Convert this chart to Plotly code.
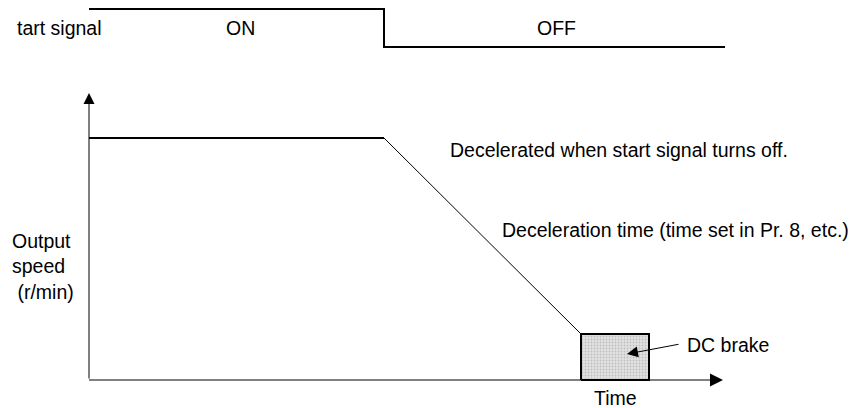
import plotly.graph_objects as go

# start signal timing (time units, level)
signal_t = [0, 295, 295, 636]
signal_lv = [371, 371, 333, 333]
signal_labels = ["ON", "OFF"]
signal_label_t = [151, 467]

# output speed profile
speed_t = [0, 295, 492]
speed_v = [242, 242, 46]

# DC brake period
brake_t = [492, 560]
brake_v = 46

# axis extents
t_axis_end = 634
v_axis_end = 287

FONT = "Liberation Sans, Arial, sans-serif"

fig = go.Figure()

# signal
fig.add_trace(go.Scatter(x=signal_t, y=signal_lv, mode="lines",
                         line=dict(color="black", width=2), hoverinfo="skip"))

# time axis line (grey)
fig.add_trace(go.Scatter(x=[0, t_axis_end - 8], y=[0, 0], mode="lines",
                         line=dict(color="#808080", width=2), hoverinfo="skip"))

# DC brake box
fig.add_trace(go.Scatter(x=[brake_t[0], brake_t[1], brake_t[1], brake_t[0], brake_t[0]],
                         y=[0, 0, brake_v, brake_v, 0], mode="lines", fill="toself",
                         fillcolor="#d6d6d6",
                         fillpattern=dict(shape=".", fgcolor="#9a9a9a", bgcolor="#e2e2e2",
                                          size=3, solidity=0.3),
                         line=dict(color="black", width=2), hoverinfo="skip"))

# speed: flat top thick, ramp thin
fig.add_trace(go.Scatter(x=speed_t[:2], y=speed_v[:2], mode="lines",
                         line=dict(color="black", width=2), hoverinfo="skip"))
fig.add_trace(go.Scatter(x=speed_t[1:], y=speed_v[1:], mode="lines",
                         line=dict(color="black", width=1), hoverinfo="skip"))

# axes arrows
fig.add_annotation(x=0, y=v_axis_end, ax=0, ay=0, xref="x", yref="y", axref="x", ayref="y",
                   text="", showarrow=True, arrowhead=2, arrowsize=2.2,
                   arrowwidth=1, arrowcolor="black")
fig.add_annotation(x=t_axis_end, y=0, ax=t_axis_end - 14, ay=0, xref="x", yref="y",
                   axref="x", ayref="y", text="", showarrow=True, arrowhead=2,
                   arrowsize=1.3, arrowwidth=2, arrowcolor="black")

# DC brake pointer
fig.add_annotation(x=538, y=26, ax=591, ay=36, xref="x", yref="y", axref="x", ayref="y",
                   text="", showarrow=True, arrowhead=2, arrowsize=2.2,
                   arrowwidth=1, arrowcolor="black")

texts = [
    (-74, 352, "tart signal", "left"),
    (signal_label_t[0], 352, signal_labels[0], "center"),
    (signal_label_t[1], 352, signal_labels[1], "center"),
    (359, 230, "Decelerated when start signal turns off.", "left"),
    (411, 150, "Deceleration time (time set in Pr. 8, etc.)", "left"),
    (596, 35, "DC brake", "left"),
    (526, -18, "Time", "center"),
    (-79, 114, "Output<br>speed<br> (r/min)", "left"),
]
for x, y, t, anc in texts:
    fig.add_annotation(x=x, y=y, xref="x", yref="y", text=t, showarrow=False,
                       xanchor=anc, yanchor="middle", align="left",
                       font=dict(family=FONT, size=19.5, color="black"))

# page body adds an 8px offset, ranges are shifted to compensate
fig.update_layout(width=858, height=408, margin=dict(l=0, r=0, t=0, b=0),
                  paper_bgcolor="white", plot_bgcolor="white", showlegend=False,
                  xaxis=dict(range=[-81, 777], visible=False, fixedrange=True),
                  yaxis=dict(range=[-36, 372], visible=False, fixedrange=True))

fig.write_html("out.html")
